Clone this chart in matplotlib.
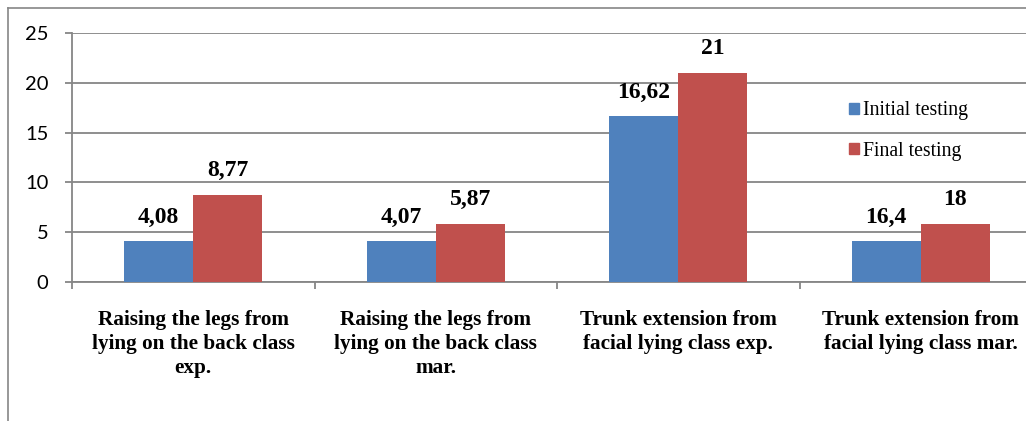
import matplotlib
matplotlib.use("Agg")
import matplotlib.pyplot as plt
from matplotlib.patches import Patch
from matplotlib.lines import Line2D
import numpy as np

categories = [
    "Raising the legs from\nlying on the back class\nexp.",
    "Raising the legs from\nlying on the back class\nmar.",
    "Trunk extension from\nfacial lying class exp.",
    "Trunk extension from\nfacial lying class mar.",
]
initial = [4.08, 4.07, 16.62, 4.07]
final = [8.77, 5.87, 21, 5.87]
# labels printed on the bars (last group labels differ from drawn heights)
initial_labels = ["4,08", "4,07", "16,62", "16,4"]
final_labels = ["8,77", "5,87", "21", "18"]
series_names = ["Initial testing", "Final testing"]

BLUE = "#4F81BD"
RED = "#C0504D"
GRID = "#868686"
SERIF = "Liberation Serif"

W, H = 1026, 421
fig = plt.figure(figsize=(W / 100, H / 100), dpi=100)

# outer chart frame (only top and left edges visible)
fig.add_artist(Line2D([8 / W, 1], [1 - 8 / H, 1 - 8 / H], transform=fig.transFigure, color=GRID, lw=1.2))
fig.add_artist(Line2D([8 / W, 8 / W], [0, 1 - 8 / H], transform=fig.transFigure, color=GRID, lw=1.2))

ax = fig.add_axes([72 / W, 1 - 282 / H, 970 / W, 249 / H])

x = np.arange(len(categories))
bw = 0.285
b1 = ax.bar(x - bw / 2, initial, bw, color=BLUE, zorder=3)
b2 = ax.bar(x + bw / 2, final, bw, color=RED, zorder=3)

for bars, labels in ((b1, initial_labels), (b2, final_labels)):
    for rect, lab in zip(bars, labels):
        ax.annotate(lab, (rect.get_x() + rect.get_width() / 2, rect.get_height()),
                    xytext=(0, 10), textcoords="offset points", ha="center", va="bottom",
                    fontfamily=SERIF, fontweight="bold", fontsize=17)

ax.set_xlim(-0.5, len(categories) - 0.5)
ax.set_ylim(0, 25)
ax.set_yticks(range(0, 26, 5))
ax.yaxis.grid(True, color=GRID, lw=1.3, zorder=0)
ax.set_axisbelow(True)

for s in ("top", "right"):
    ax.spines[s].set_visible(False)
for s in ("left", "bottom"):
    ax.spines[s].set_color(GRID)
    ax.spines[s].set_linewidth(1.3)

ax.set_xticks(x)
ax.set_xticklabels(categories, fontfamily=SERIF, fontweight="bold", fontsize=15.3,
                   linespacing=1.25)
ax.set_xticks(np.arange(-0.5, len(categories), 1), minor=True)
ax.tick_params(axis="x", which="major", length=0, pad=20.5)
ax.tick_params(axis="x", which="minor", length=5, color=GRID, width=1.3, direction="out")
ax.tick_params(axis="y", length=5, color=GRID, width=1.3, pad=12, labelsize=14.5)
for t in ax.get_yticklabels():
    t.set_fontfamily("Lato")

handles = [Patch(color=BLUE), Patch(color=RED)]
fig.legend(handles, series_names, loc="center left",
           bbox_to_anchor=(831 / W, 1 - 131 / H), frameon=False,
           prop={"family": SERIF, "size": 14.2},
           handlelength=0.5, handleheight=0.5, handletextpad=0.2,
           labelspacing=1.1)

fig.savefig("out.png", dpi=100, facecolor="white")
